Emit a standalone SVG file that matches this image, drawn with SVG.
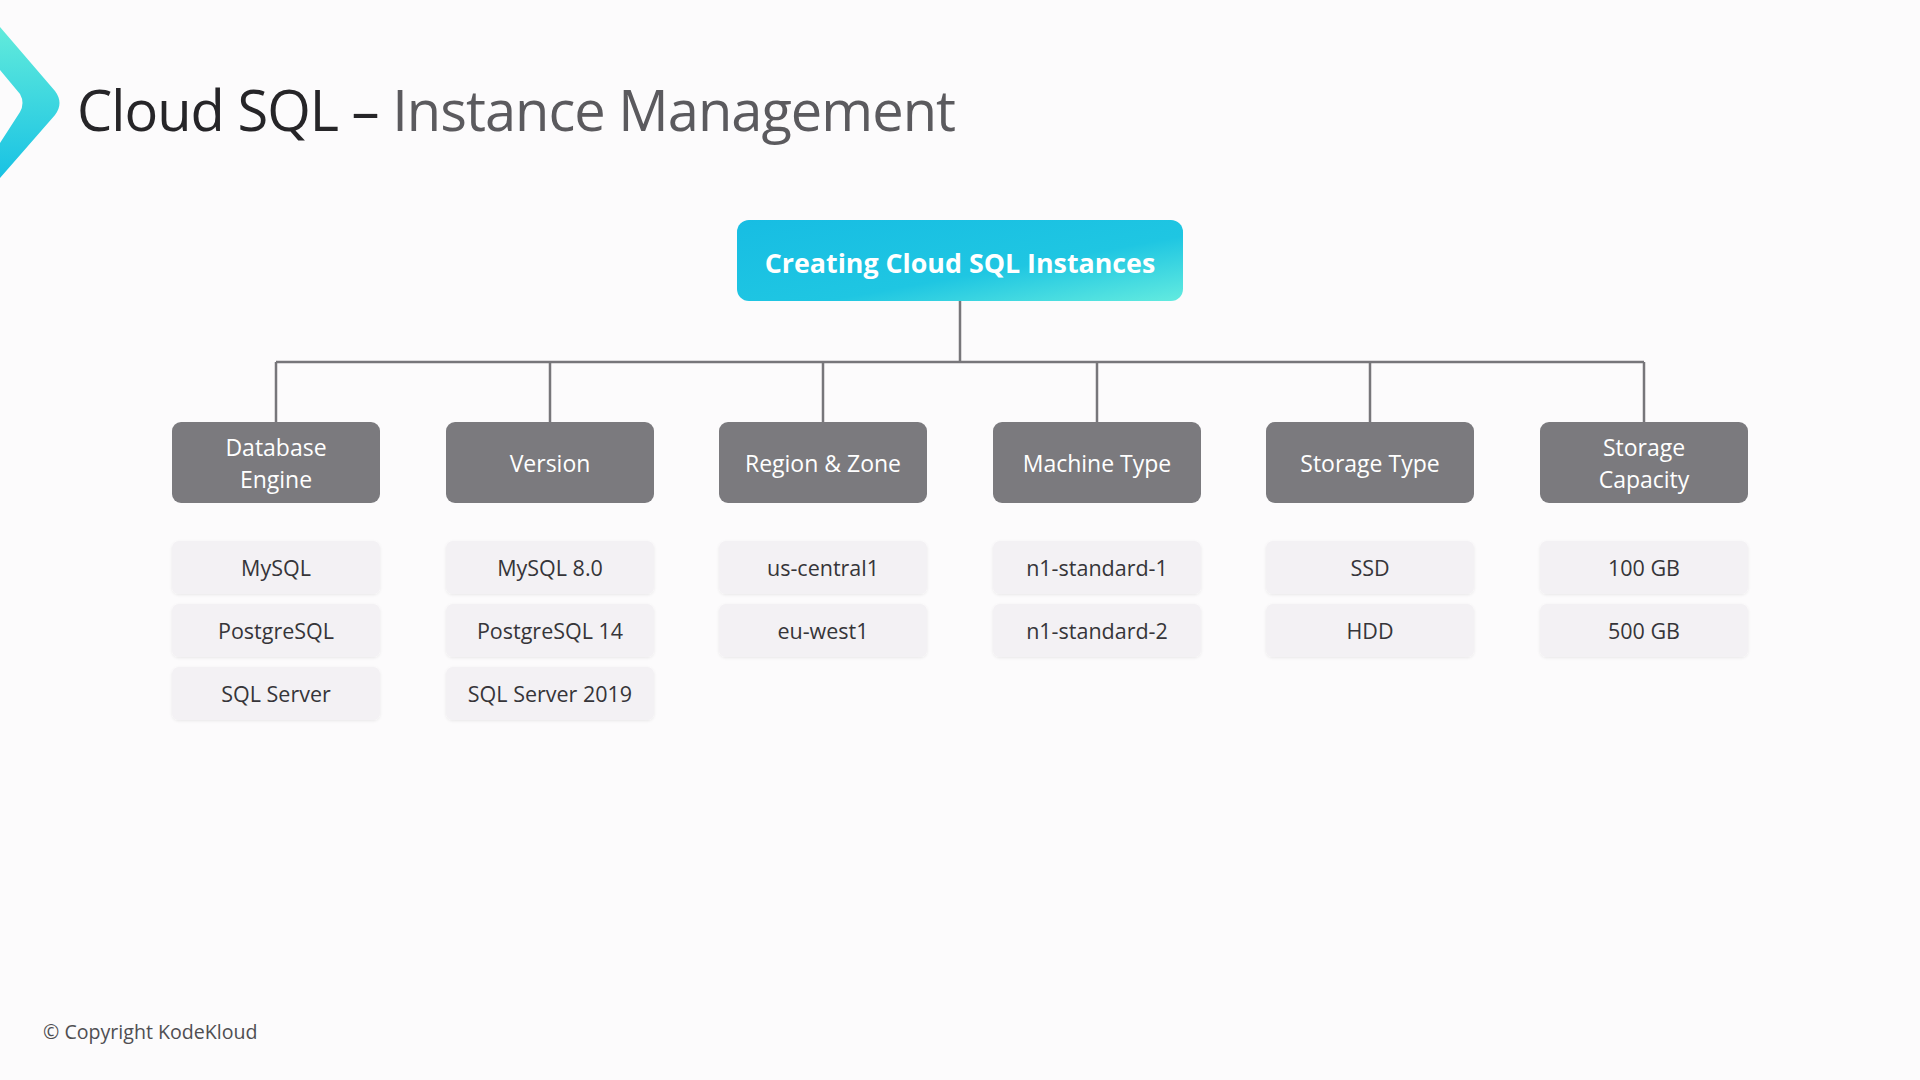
<svg xmlns="http://www.w3.org/2000/svg" width="1920" height="1080" viewBox="0 0 1920 1080">
<defs>
<linearGradient id="gTop" x1="0" y1="0" x2="1" y2="1">
<stop offset="0" stop-color="#17bde3"/>
<stop offset="0.6" stop-color="#1fc6e2"/>
<stop offset="1" stop-color="#63ebdf"/>
</linearGradient>
<linearGradient id="gLogo" x1="0" y1="0" x2="0" y2="1">
<stop offset="0" stop-color="#62ebdb"/>
<stop offset="1" stop-color="#18c2e4"/>
</linearGradient>
<filter id="sh" x="-10%" y="-20%" width="120%" height="150%">
<feDropShadow dx="0" dy="1" stdDeviation="1.5" flood-color="#000" flood-opacity="0.08"/>
</filter>
<style>
text{font-family:"Open Sans","Noto Sans","Liberation Sans",sans-serif;text-anchor:middle;dominant-baseline:central}
.cat rect{fill:#7b7a7e}
.cat text{fill:#ffffff;font-size:23px;font-weight:500}
.item rect{fill:#f3f1f4;filter:url(#sh)}
.item text{fill:#363539;font-size:21.5px;font-weight:500}
.conn{stroke:#77767a;stroke-width:2.5;fill:none}
</style>
</defs>
<rect width="1920" height="1080" fill="#fcfbfc"/>
<path d="M0,27 L55,91 Q64,103 55,115 L0,178 L0,143 L20,112 Q25,103 20,94 L0,70 Z" fill="url(#gLogo)"/>
<text x="77" y="109" textLength="879" style="text-anchor:start;font-size:56px"><tspan fill="#262528">Cloud SQL – </tspan><tspan fill="#5b5a5e">Instance Management</tspan></text>

<g id="connectors">
<path class="conn" d="M960,301 V362 M276,362 H1644 M276,362 V422 M550,362 V422 M823,362 V422 M1097,362 V422 M1370,362 V422 M1644,362 V422"/>
</g>

<g id="root">
<rect x="737" y="220" width="446" height="81" rx="12" fill="url(#gTop)"/>
<text x="960" y="262" fill="#ffffff" style="font-size:26.8px;font-weight:700">Creating Cloud SQL Instances</text>
</g>

<g id="cat-engine" class="cat"><rect x="172" y="422" width="208" height="81" rx="9"/><text x="276" y="447">Database</text><text x="276" y="479">Engine</text></g>
<g id="cat-version" class="cat"><rect x="446" y="422" width="208" height="81" rx="9"/><text x="550" y="463">Version</text></g>
<g id="cat-region" class="cat"><rect x="719" y="422" width="208" height="81" rx="9"/><text x="823" y="463">Region &amp; Zone</text></g>
<g id="cat-machine" class="cat"><rect x="993" y="422" width="208" height="81" rx="9"/><text x="1097" y="463">Machine Type</text></g>
<g id="cat-storagetype" class="cat"><rect x="1266" y="422" width="208" height="81" rx="9"/><text x="1370" y="463">Storage Type</text></g>
<g id="cat-capacity" class="cat"><rect x="1540" y="422" width="208" height="81" rx="9"/><text x="1644" y="447">Storage</text><text x="1644" y="479">Capacity</text></g>

<g id="item-mysql" class="item"><rect x="172" y="541" width="208" height="53" rx="7"/><text x="276" y="567">MySQL</text></g>
<g id="item-postgres" class="item"><rect x="172" y="604" width="208" height="53" rx="7"/><text x="276" y="630">PostgreSQL</text></g>
<g id="item-sqlserver" class="item"><rect x="172" y="667" width="208" height="53" rx="7"/><text x="276" y="693">SQL Server</text></g>

<g id="item-mysql8" class="item"><rect x="446" y="541" width="208" height="53" rx="7"/><text x="550" y="567">MySQL 8.0</text></g>
<g id="item-pg14" class="item"><rect x="446" y="604" width="208" height="53" rx="7"/><text x="550" y="630">PostgreSQL 14</text></g>
<g id="item-ss2019" class="item"><rect x="446" y="667" width="208" height="53" rx="7"/><text x="550" y="693">SQL Server 2019</text></g>

<g id="item-uscentral" class="item"><rect x="719" y="541" width="208" height="53" rx="7"/><text x="823" y="567">us-central1</text></g>
<g id="item-euwest" class="item"><rect x="719" y="604" width="208" height="53" rx="7"/><text x="823" y="630">eu-west1</text></g>

<g id="item-n1s1" class="item"><rect x="993" y="541" width="208" height="53" rx="7"/><text x="1097" y="567">n1-standard-1</text></g>
<g id="item-n1s2" class="item"><rect x="993" y="604" width="208" height="53" rx="7"/><text x="1097" y="630">n1-standard-2</text></g>

<g id="item-ssd" class="item"><rect x="1266" y="541" width="208" height="53" rx="7"/><text x="1370" y="567">SSD</text></g>
<g id="item-hdd" class="item"><rect x="1266" y="604" width="208" height="53" rx="7"/><text x="1370" y="630">HDD</text></g>

<g id="item-100gb" class="item"><rect x="1540" y="541" width="208" height="53" rx="7"/><text x="1644" y="567">100 GB</text></g>
<g id="item-500gb" class="item"><rect x="1540" y="604" width="208" height="53" rx="7"/><text x="1644" y="630">500 GB</text></g>

<text x="43" y="1031" fill="#4f4e52" style="text-anchor:start;font-size:19.6px">© Copyright KodeKloud</text>
</svg>
